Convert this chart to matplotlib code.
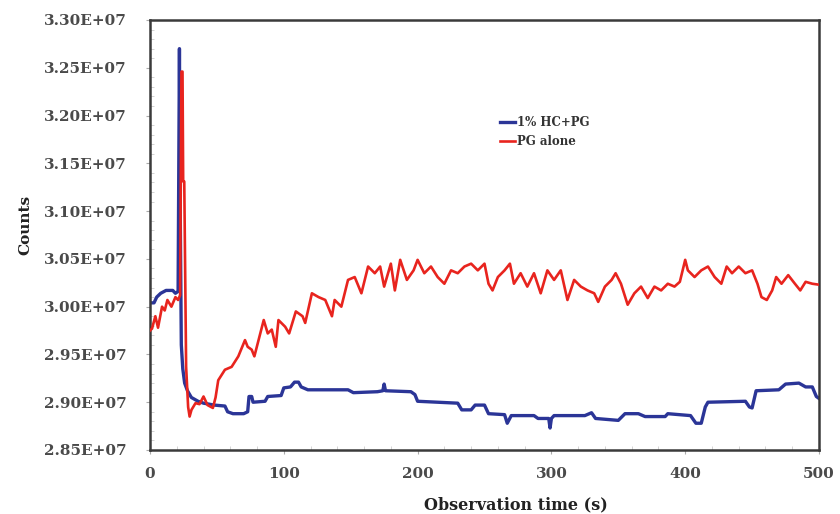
import matplotlib
matplotlib.use("Agg")
import matplotlib.pyplot as plt
from matplotlib.ticker import MultipleLocator, FuncFormatter

# ---- data (time in s, counts in units of 1e7) ----
hc_t = [0, 3, 5, 8, 12, 17, 19, 21, 22, 22.6, 23.4, 24.5, 25.9, 28, 30.9, 35.9, 40, 48, 56, 58,
        62, 70, 73, 74, 76, 77, 86, 88, 98, 100, 105, 108, 111, 113, 118, 148, 152, 170, 174, 175,
        176, 195, 198, 200, 230, 233, 240, 243, 250, 253, 265, 267, 270, 287, 290, 298, 299, 300,
        302, 325, 330, 333, 350, 355, 365, 370, 385, 387, 404, 408, 412, 415, 417, 445, 448, 450,
        453, 470, 475, 485, 490, 495, 498, 500]
hc_v = [3.004, 3.004, 3.010, 3.014, 3.017, 3.017, 3.014, 3.016, 3.270, 3.100, 2.960, 2.935, 2.920,
        2.912, 2.905, 2.901, 2.899, 2.897, 2.896, 2.890, 2.888, 2.888, 2.890, 2.906, 2.906, 2.900,
        2.901, 2.906, 2.907, 2.915, 2.916, 2.921, 2.921, 2.916, 2.913, 2.913, 2.910, 2.911, 2.912,
        2.919, 2.912, 2.911, 2.908, 2.901, 2.899, 2.892, 2.892, 2.897, 2.897, 2.888, 2.887, 2.878,
        2.886, 2.886, 2.883, 2.883, 2.873, 2.883, 2.886, 2.886, 2.889, 2.883, 2.881, 2.888, 2.888,
        2.885, 2.885, 2.888, 2.886, 2.878, 2.878, 2.895, 2.900, 2.901, 2.895, 2.894, 2.912, 2.913,
        2.919, 2.920, 2.916, 2.916, 2.906, 2.904]

pg_t = [0, 1.5, 4, 6, 9, 11, 13, 16, 19, 21, 22.5, 23.5, 24.3, 24.8, 25.6, 27, 28.5, 29.6, 31, 34,
        37, 40, 43, 47, 49, 51, 56, 61, 66, 71, 73, 76, 78, 85, 88, 91, 94, 96, 101, 104, 109, 114,
        116, 121, 126, 131, 136, 138, 143, 148, 153, 158, 163, 168, 172, 175, 180, 183, 187, 192,
        197, 200, 205, 210, 215, 220, 225, 230, 235, 240, 245, 250, 253, 256, 260, 265, 269, 272,
        277, 282, 287, 292, 297, 302, 307, 312, 317, 322, 327, 332, 335, 340, 345, 348, 352, 357,
        362, 367, 372, 377, 382, 387, 392, 396, 400, 402, 407, 412, 417, 422, 427, 431, 435, 440,
        445, 450, 454, 457, 461, 465, 468, 472, 477, 482, 486, 490, 495, 500]
pg_v = [2.975, 2.977, 2.990, 2.978, 3.000, 2.996, 3.007, 3.000, 3.010, 3.007, 3.012, 3.246, 3.246,
        3.131, 3.131, 2.937, 2.895, 2.885, 2.892, 2.899, 2.898, 2.906, 2.897, 2.894, 2.905, 2.923,
        2.934, 2.937, 2.948, 2.965, 2.958, 2.955, 2.948, 2.986, 2.972, 2.976, 2.958, 2.986, 2.979,
        2.972, 2.995, 2.990, 2.983, 3.014, 3.010, 3.007, 2.990, 3.007, 3.000, 3.028, 3.031, 3.014,
        3.042, 3.035, 3.042, 3.021, 3.045, 3.017, 3.049, 3.028, 3.038, 3.049, 3.035, 3.042, 3.031,
        3.024, 3.038, 3.035, 3.042, 3.045, 3.038, 3.045, 3.024, 3.017, 3.031, 3.038, 3.045, 3.024,
        3.035, 3.021, 3.035, 3.014, 3.038, 3.028, 3.038, 3.007, 3.028, 3.021, 3.017, 3.014, 3.005,
        3.021, 3.028, 3.035, 3.024, 3.002, 3.014, 3.021, 3.009, 3.021, 3.017, 3.024, 3.021, 3.026,
        3.049, 3.038, 3.031, 3.038, 3.042, 3.031, 3.024, 3.042, 3.035, 3.042, 3.035, 3.038, 3.024,
        3.010, 3.007, 3.017, 3.031, 3.024, 3.033, 3.024, 3.017, 3.026, 3.024, 3.023]

series_labels = ["1% HC+PG", "PG alone"]
x_label = "Observation time (s)"
y_label = "Counts"

SCALE = 1e7
hc_counts = [v * SCALE for v in hc_v]
pg_counts = [v * SCALE for v in pg_v]

# ---- figure ----
fig = plt.figure(figsize=(8.4, 5.14), dpi=100)
ax = fig.add_axes([150 / 840, 1 - 450 / 514, 669 / 840, 430 / 514])

ax.plot(hc_t, hc_counts, color="#2b3597", lw=2.4, label=series_labels[0], zorder=2)
ax.plot(pg_t, pg_counts, color="#e8241e", lw=1.9, label=series_labels[1], zorder=3)

ax.set_xlim(0, 500)
ax.set_ylim(2.85e7, 3.30e7)
ax.xaxis.set_major_locator(MultipleLocator(100))
ax.xaxis.set_minor_locator(MultipleLocator(20))
ax.yaxis.set_major_locator(MultipleLocator(0.05e7))
ax.yaxis.set_minor_locator(MultipleLocator(0.01e7))
ax.yaxis.set_major_formatter(FuncFormatter(lambda v, p: f"{v:.2E}"))

for lab in ax.get_xticklabels() + ax.get_yticklabels():
    lab.set_fontfamily("DejaVu Serif")
    lab.set_fontweight("bold")
    lab.set_fontsize(11)
ax.tick_params(axis="both", which="major", direction="out", length=3, width=0.8,
               colors="#aaaaaa", labelcolor="#4a4a4a", labelsize=11)
ax.tick_params(axis="y", which="major", pad=14)
ax.tick_params(axis="x", which="major", pad=9)
ax.tick_params(axis="both", which="minor", direction="in", length=3, width=0.6, colors="#cccccc")

for s in ax.spines.values():
    s.set_color("#3a3a3a")
    s.set_linewidth(1.8)

ax.set_xlabel(x_label, fontfamily="DejaVu Serif", fontweight="bold", fontsize=11.5, color="#222222")
ax.xaxis.set_label_coords(0.547, -0.108)
ax.set_ylabel(y_label, fontfamily="DejaVu Serif", fontweight="bold", fontsize=11, color="#222222")
ax.yaxis.set_label_coords(-0.176, 0.523)

leg = ax.legend(loc="upper left", bbox_to_anchor=((500 - 150) / 669, (450 - 116) / 430),
                frameon=False, borderpad=0, borderaxespad=0, handlelength=1.3,
                handletextpad=0.15, labelspacing=0.55,
                prop=dict(family="DejaVu Serif", weight="bold", size=8.5))
for t in leg.get_texts():
    t.set_color("#333333")

fig.savefig("out.png", dpi=100, facecolor="white")
